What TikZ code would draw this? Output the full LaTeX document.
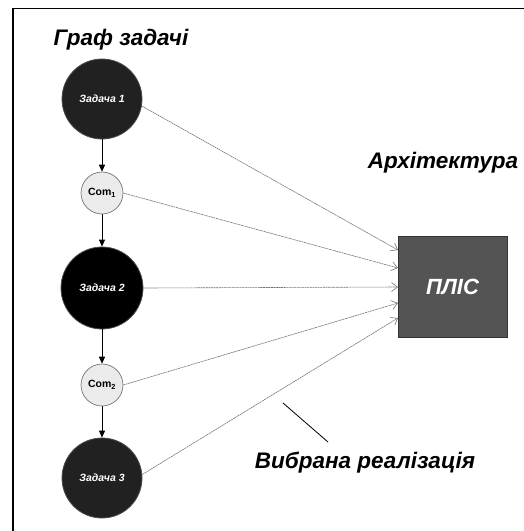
\documentclass[tikz,border=0pt]{standalone}
\usepackage{fontspec}
\setmainfont{Liberation Sans}
\usetikzlibrary{arrows.meta}
\begin{document}
\begin{tikzpicture}[x=1pt,y=-1pt,
  task/.style={circle, draw=black!70, line width=0.8pt, minimum size=80pt, inner sep=0pt, text=white, font=\bfseries\itshape\fontsize{10.5}{12}\selectfont},
  comm/.style={circle, draw=black!60, line width=0.6pt, fill=black!8, minimum size=42pt, inner sep=0pt, font=\bfseries\fontsize{10.5}{11}\selectfont},
  flow/.style={-{Triangle[length=7pt,width=6pt]}, line width=0.9pt, black},
  map/.style={-{Straight Barb[length=6pt,width=9pt]}, black!55, line width=0.6pt, dash pattern=on 2pt off 0.6pt},
  title/.style={font=\bfseries\itshape\fontsize{22.5}{24}\selectfont}]
\useasboundingbox (0,0) rectangle (524,531);
\draw[line width=1.4pt] (13,531) -- (13,8.5) -- (524,8.5);
\node[title] (t1) at (121,40) {Граф задачі};
\node[title] (t2) at (443,163) {Архітектура};
\node[title] (t3) at (365,463) {Вибрана реалізація};
\node[task, fill=black!87] (z1) at (102,99) {Задача 1};
\node[comm] (c1) at (102,193) {Com\textsubscript{1}};
\node[task, fill=black, minimum size=82pt] (z2) at (102,288) {Задача 2};
\node[comm] (c2) at (102,385) {Com\textsubscript{2}};
\node[task, fill=black!87] (z3) at (102,478) {Задача 3};
\node[draw=black!80, line width=0.8pt, fill=black!67, minimum width=109pt, minimum height=101pt, inner sep=0pt, text=white, font=\bfseries\itshape\fontsize{22}{24}\selectfont] (p) at (452.5,286.5) {ПЛІС};
\coordinate (a1) at (398,250);
\coordinate (a2) at (398,268);
\coordinate (a3) at (398,287);
\coordinate (a4) at (398,303);
\coordinate (a5) at (398,318);
\draw[flow] (z1) -- (c1);
\draw[flow] (c1) -- (z2);
\draw[flow] (z2) -- (c2);
\draw[flow] (c2) -- (z3);
\draw[map] (z1.-10) -- (a1);
\draw[map] (c1.east) -- (a2);
\draw[map] (z2.east) -- (a3);
\draw[map] (c2.east) -- (a4);
\draw[map] (z3.5) -- (a5);
\coordinate (l1) at (283,403);
\coordinate (l2) at (328,442);
\draw[line width=0.8pt] (l1) -- (l2);
\end{tikzpicture}
\end{document}
